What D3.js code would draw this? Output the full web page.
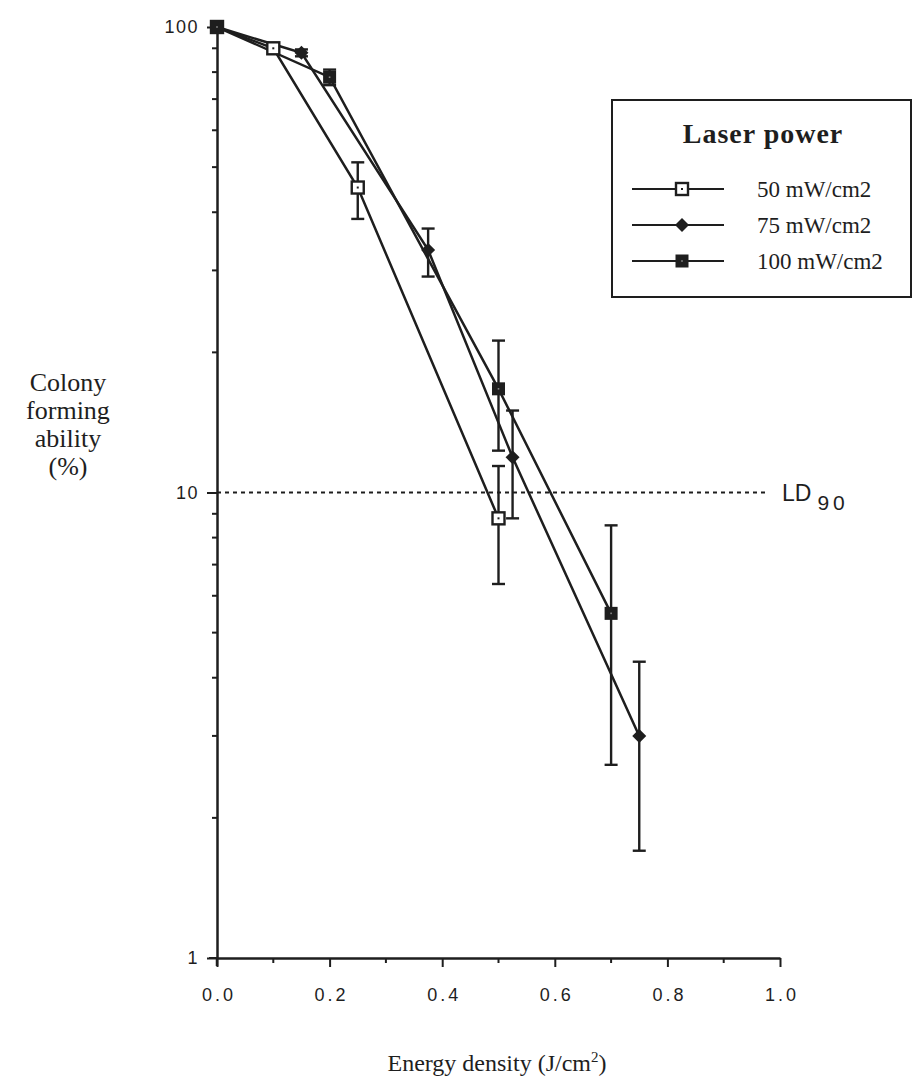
<!DOCTYPE html>
<html>
<head>
<meta charset="utf-8">
<script src="https://cdn.jsdelivr.net/npm/d3@7"></script>
<style>
  html, body { margin: 0; padding: 0; background: #fff; }
  svg { display: block; }
</style>
</head>
<body>
<svg id="chart" width="914" height="1079"></svg>
<script>
// Colony forming ability versus laser energy density, three laser powers
const seriesNames = ["50 mW/cm2", "75 mW/cm2", "100 mW/cm2"];
const markerKinds = ["openSquare", "diamond", "filledSquare"];

const energy50 = [0, 0.1, 0.25, 0.5];
const cfa50    = [100, 90, 45.2, 8.8];
const low50    = [100, 90, 38.7, 6.36];
const high50   = [100, 90, 51.2, 11.4];

const energy75 = [0, 0.15, 0.375, 0.525, 0.75];
const cfa75    = [100, 88, 33.2, 11.9, 3.0];
const low75    = [100, 86.5, 29.1, 8.8, 1.7];
const high75   = [100, 89.5, 36.9, 15.0, 4.33];

const energy100 = [0, 0.2, 0.5, 0.7];
const cfa100    = [100, 78, 16.7, 5.5];
const low100    = [100, 75, 12.3, 2.6];
const high100   = [100, 81, 21.2, 8.5];

const xTicks = [0, 0.2, 0.4, 0.6, 0.8, 1.0];
const xMinorTicks = [0.1, 0.3, 0.5, 0.7, 0.9];
const yTicks = [1, 10, 100];
const yMinorTicks = [2, 3, 4, 5, 6, 7, 8, 9, 20, 30, 40, 50, 60, 70, 80, 90];
const ld90 = 10;

const ink = "#1e1e1e";
const sans = "Liberation Sans, Arial, sans-serif";
const serif = "Liberation Serif, Times New Roman, serif";
const svg = d3.select("#chart");

const x = d3.scaleLinear().domain([0, 1]).range([217, 780]);
const y = d3.scaleLog().domain([1, 100]).range([958, 27]);

const series = [
  { name: seriesNames[0], kind: markerKinds[0], xs: energy50,  ys: cfa50,  lo: low50,  hi: high50 },
  { name: seriesNames[1], kind: markerKinds[1], xs: energy75,  ys: cfa75,  lo: low75,  hi: high75 },
  { name: seriesNames[2], kind: markerKinds[2], xs: energy100, ys: cfa100, lo: low100, hi: high100 }
].map(s => ({ ...s, pts: s.xs.map((v, i) => ({ x: v, y: s.ys[i], lo: s.lo[i], hi: s.hi[i] })) }));

// LD90 reference line
svg.append("line")
  .attr("x1", x(0)).attr("x2", 765)
  .attr("y1", y(ld90)).attr("y2", y(ld90))
  .attr("stroke", ink).attr("stroke-width", 2.2)
  .attr("stroke-dasharray", "4,4");
const ldText = svg.append("text")
  .attr("x", 782).attr("y", y(ld90) + 8)
  .attr("font-family", sans)
  .attr("font-size", 23).attr("fill", ink);
ldText.append("tspan").text("LD");
ldText.append("tspan").attr("dx", 6).attr("dy", 9).attr("font-size", 21)
  .attr("letter-spacing", 4).text("90");

// Axes
const xAxis = svg.append("g").attr("transform", `translate(0,${y(1)})`)
  .call(d3.axisBottom(x).tickValues(xTicks).tickFormat(d3.format(".1f"))
    .tickSize(9).tickSizeOuter(0).tickPadding(21));
xAxis.append("g").selectAll("line").data(xMinorTicks).join("line")
  .attr("x1", d => x(d)).attr("x2", d => x(d))
  .attr("y1", 0).attr("y2", 5)
  .attr("stroke", ink).attr("stroke-width", 2);

const yAxis = svg.append("g").attr("transform", `translate(${x(0)},0)`)
  .call(d3.axisLeft(y).tickValues(yTicks).tickFormat(d3.format("d"))
    .tickSize(10).tickSizeOuter(0).tickPadding(8));
yAxis.append("g").selectAll("line").data(yMinorTicks).join("line")
  .attr("x1", -5).attr("x2", 0)
  .attr("y1", d => y(d)).attr("y2", d => y(d))
  .attr("stroke", ink).attr("stroke-width", 2);

[xAxis, yAxis].forEach(g => {
  g.select(".domain").attr("stroke", ink).attr("stroke-width", 2.5);
  g.selectAll(".tick line").attr("stroke", ink).attr("stroke-width", 2);
  g.selectAll(".tick text")
    .attr("font-family", sans)
    .attr("font-size", 18).attr("fill", ink).attr("letter-spacing", 1.5);
});
xAxis.selectAll(".tick text").attr("letter-spacing", 3).attr("dx", 1.5);
// y axis crosses slightly below the x axis, x axis starts slightly left of it
svg.append("line").attr("x1", x(0)).attr("x2", x(0))
  .attr("y1", y(1)).attr("y2", y(1) + 8).attr("stroke", ink).attr("stroke-width", 2.5);
svg.append("line").attr("x1", x(0) - 8).attr("x2", x(0))
  .attr("y1", y(1)).attr("y2", y(1)).attr("stroke", ink).attr("stroke-width", 2);

// Axis titles
const yTitle = svg.append("text").attr("font-family", serif).attr("font-size", 26)
  .attr("fill", ink).attr("text-anchor", "middle");
["Colony", "forming", "ability", "(%)"].forEach((t, i) => {
  yTitle.append("tspan").attr("x", 68).attr("y", 391 + i * 28).text(t);
});
const xTitle = svg.append("text").attr("font-family", serif).attr("font-size", 24)
  .attr("fill", ink).attr("text-anchor", "middle")
  .attr("x", 497).attr("y", 1071);
xTitle.append("tspan").text("Energy density  (J/cm");
xTitle.append("tspan").attr("font-size", 15).attr("dy", -9).text("2");
xTitle.append("tspan").attr("dy", 9).text(")");

// Series lines
const line = d3.line().x(d => x(d.x)).y(d => y(d.y));
svg.append("g").selectAll("path").data(series).join("path")
  .attr("d", s => line(s.pts))
  .attr("fill", "none").attr("stroke", ink).attr("stroke-width", 2.5);

// Error bars
const cap = 6.5;
const errG = svg.append("g").attr("stroke", ink).attr("stroke-width", 2.4);
series.forEach(s => {
  s.pts.filter(p => p.hi > p.lo).forEach(p => {
    const cx = x(p.x);
    errG.append("line").attr("x1", cx).attr("x2", cx).attr("y1", y(p.hi)).attr("y2", y(p.lo));
    errG.append("line").attr("x1", cx - cap).attr("x2", cx + cap).attr("y1", y(p.hi)).attr("y2", y(p.hi));
    errG.append("line").attr("x1", cx - cap).attr("x2", cx + cap).attr("y1", y(p.lo)).attr("y2", y(p.lo));
  });
});

// Marker drawing
function drawMarker(g, kind, cx, cy) {
  if (kind === "openSquare") {
    g.append("rect").attr("x", cx - 6).attr("y", cy - 6).attr("width", 12).attr("height", 12)
      .attr("fill", "#fff").attr("stroke", ink).attr("stroke-width", 2.4);
    g.append("rect").attr("x", cx - 1).attr("y", cy - 1).attr("width", 2).attr("height", 2).attr("fill", ink);
  } else if (kind === "filledSquare") {
    g.append("rect").attr("x", cx - 6.5).attr("y", cy - 6.5).attr("width", 13).attr("height", 13)
      .attr("fill", ink);
    g.append("rect").attr("x", cx - 0.8).attr("y", cy - 0.8).attr("width", 1.6).attr("height", 1.6).attr("fill", "#888");
  } else {
    g.append("path").attr("d", `M${cx},${cy - 7}L${cx + 7},${cy}L${cx},${cy + 7}L${cx - 7},${cy}Z`)
      .attr("fill", ink);
  }
}
const markG = svg.append("g");
series.forEach(s => s.pts.forEach(p => drawMarker(markG, s.kind, x(p.x), y(p.y))));

// Legend
const lg = svg.append("g");
lg.append("rect").attr("x", 612).attr("y", 100).attr("width", 299).attr("height", 197)
  .attr("fill", "#fff").attr("stroke", ink).attr("stroke-width", 2);
lg.append("text").attr("x", 763).attr("y", 143).attr("text-anchor", "middle")
  .attr("font-family", serif).attr("font-weight", "bold").attr("font-size", 28)
  .attr("letter-spacing", 1).attr("fill", ink).text("Laser  power");
series.forEach((s, i) => {
  const ry = 189 + i * 36;
  lg.append("line").attr("x1", 632).attr("x2", 724).attr("y1", ry).attr("y2", ry)
    .attr("stroke", ink).attr("stroke-width", 2.2);
  drawMarker(lg, s.kind, 682, ry);
  lg.append("text").attr("x", 757).attr("y", ry + 8)
    .attr("font-family", serif).attr("font-size", 23).attr("fill", ink).text(s.name);
});
</script>
</body>
</html>
